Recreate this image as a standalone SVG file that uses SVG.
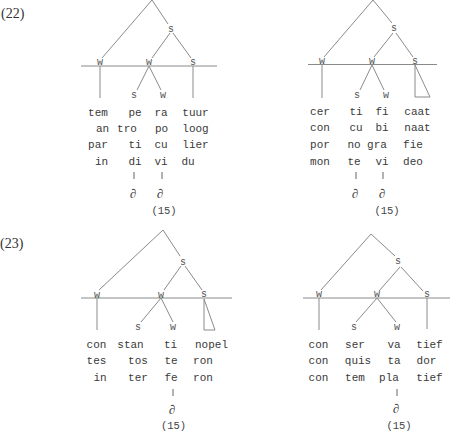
<svg xmlns="http://www.w3.org/2000/svg" width="450" height="431" viewBox="0 0 450 431">
<style>
.bg{fill:#ffffff}
.ln{stroke:#8a8a8a;stroke-width:1;fill:none}
.bar{stroke:#666;stroke-width:1}
.lbl{font-family:"Liberation Mono","DejaVu Sans Mono",monospace;font-size:10px;fill:#555;text-anchor:middle}
.syl{font-family:"Liberation Mono","DejaVu Sans Mono",monospace;font-size:11px;fill:#3a3a3a;text-anchor:middle}
.num{font-family:"Liberation Serif","Times New Roman",serif;font-size:14px;fill:#333}
.schwa{font-family:"Liberation Serif","DejaVu Serif",serif;font-style:italic;font-size:13px;fill:#444;text-anchor:middle}
.ref{font-family:"Liberation Mono","DejaVu Sans Mono",monospace;font-size:10.5px;fill:#444;text-anchor:middle}
</style>
<rect class="bg" x="0" y="0" width="450" height="431"/>
<text class="num" x="1" y="18">(22)</text>
<text class="num" x="0" y="248">(23)</text>

<!-- Example 22 left -->
<g id="ex22a">
  <g id="ex22a-connectors">
    <line class="ln" x1="152" y1="0" x2="102" y2="58"/>
    <line class="ln" x1="152" y1="0" x2="168" y2="24"/>
    <line class="ln" x1="170" y1="33" x2="152" y2="58"/>
    <line class="ln" x1="173" y1="33" x2="191" y2="58"/>
    <line class="ln" x1="81" y1="66" x2="217" y2="66"/>
    <line class="ln" x1="100" y1="66" x2="100" y2="98"/>
    <line class="ln" x1="149" y1="66" x2="137" y2="90"/>
    <line class="ln" x1="149" y1="66" x2="161" y2="90"/>
    <line class="ln" x1="193" y1="66" x2="193" y2="98"/>
    <line class="bar" x1="134" y1="172" x2="134" y2="179"/>
    <line class="bar" x1="162" y1="172" x2="162" y2="179"/>
  </g>
  <g id="ex22a-n-s1"><text class="lbl" x="171" y="32">s</text></g>
  <g id="ex22a-n-w1"><text class="lbl" x="100" y="65">w</text></g>
  <g id="ex22a-n-w2"><text class="lbl" x="149" y="65">w</text></g>
  <g id="ex22a-n-s2"><text class="lbl" x="193" y="65">s</text></g>
  <g id="ex22a-n-s3"><text class="lbl" x="134" y="98">s</text></g>
  <g id="ex22a-n-w3"><text class="lbl" x="163" y="98">w</text></g>
  <g id="ex22a-words">
    <text class="syl" x="98" y="115.5">tem</text><text class="syl" x="135" y="115.5">pe</text><text class="syl" x="161" y="115.5">ra</text><text class="syl" x="195.5" y="115.5">tuur</text>
    <text class="syl" x="102.5" y="131.5">an</text><text class="syl" x="127" y="131.5">tro</text><text class="syl" x="161.5" y="131.5">po</text><text class="syl" x="195.5" y="131.5">loog</text>
    <text class="syl" x="98" y="148">par</text><text class="syl" x="135" y="148">ti</text><text class="syl" x="161" y="148">cu</text><text class="syl" x="195.5" y="148">lier</text>
    <text class="syl" x="101.5" y="164.5">in</text><text class="syl" x="135" y="164.5">di</text><text class="syl" x="161" y="164.5">vi</text><text class="syl" x="188" y="164.5">du</text>
  </g>
  <text class="schwa" x="133" y="198">∂</text>
  <text class="schwa" x="160" y="198">∂</text>
  <text class="ref" x="164" y="214">(15)</text>
</g>

<!-- Example 22 right -->
<g id="ex22b">
  <g id="ex22b-connectors">
    <line class="ln" x1="373" y1="0" x2="324" y2="57"/>
    <line class="ln" x1="373" y1="0" x2="392" y2="23"/>
    <line class="ln" x1="393" y1="33" x2="374" y2="57"/>
    <line class="ln" x1="396" y1="33" x2="413" y2="57"/>
    <line class="ln" x1="308" y1="64.5" x2="437" y2="64.5"/>
    <line class="ln" x1="322" y1="65" x2="322" y2="98"/>
    <line class="ln" x1="372" y1="65" x2="360" y2="90"/>
    <line class="ln" x1="372" y1="65" x2="384" y2="90"/>
    <polygon class="ln" points="415,65 415,97 430,97"/>
    <line class="bar" x1="356" y1="172" x2="356" y2="179"/>
    <line class="bar" x1="383" y1="172" x2="383" y2="179"/>
  </g>
  <g id="ex22b-n-s1"><text class="lbl" x="394" y="31">s</text></g>
  <g id="ex22b-n-w1"><text class="lbl" x="322" y="64">w</text></g>
  <g id="ex22b-n-w2"><text class="lbl" x="372" y="64">w</text></g>
  <g id="ex22b-n-s2"><text class="lbl" x="415" y="64">s</text></g>
  <g id="ex22b-n-s3"><text class="lbl" x="357" y="98">s</text></g>
  <g id="ex22b-n-w3"><text class="lbl" x="386" y="98">w</text></g>
  <g id="ex22b-words">
    <text class="syl" x="320" y="115">cer</text><text class="syl" x="356" y="115">ti</text><text class="syl" x="382" y="115">fi</text><text class="syl" x="417.5" y="115">caat</text>
    <text class="syl" x="320" y="131">con</text><text class="syl" x="356" y="131">cu</text><text class="syl" x="382" y="131">bi</text><text class="syl" x="417.5" y="131">naat</text>
    <text class="syl" x="320" y="148">por</text><text class="syl" x="354" y="148">no</text><text class="syl" x="377" y="148">gra</text><text class="syl" x="413" y="148">fie</text>
    <text class="syl" x="320" y="164.5">mon</text><text class="syl" x="354" y="164.5">te</text><text class="syl" x="382" y="164.5">vi</text><text class="syl" x="413" y="164.5">deo</text>
  </g>
  <text class="schwa" x="355" y="198">∂</text>
  <text class="schwa" x="382" y="198">∂</text>
  <text class="ref" x="387" y="214">(15)</text>
</g>

<!-- Example 23 left -->
<g id="ex23a">
  <g id="ex23a-connectors">
    <line class="ln" x1="163" y1="230" x2="99" y2="290"/>
    <line class="ln" x1="163" y1="230" x2="180" y2="256"/>
    <line class="ln" x1="181" y1="266" x2="164" y2="290"/>
    <line class="ln" x1="185" y1="266" x2="202" y2="290"/>
    <line class="ln" x1="81" y1="298" x2="232" y2="298"/>
    <line class="ln" x1="97" y1="298" x2="97" y2="330"/>
    <line class="ln" x1="161" y1="298" x2="141" y2="322"/>
    <line class="ln" x1="161" y1="298" x2="173" y2="322"/>
    <polygon class="ln" points="204,299 204,330 215,330"/>
    <line class="bar" x1="173" y1="389" x2="173" y2="396"/>
  </g>
  <g id="ex23a-n-s1"><text class="lbl" x="183" y="265">s</text></g>
  <g id="ex23a-n-w1"><text class="lbl" x="97" y="298">w</text></g>
  <g id="ex23a-n-w2"><text class="lbl" x="161" y="298">w</text></g>
  <g id="ex23a-n-s2"><text class="lbl" x="204" y="297">s</text></g>
  <g id="ex23a-n-s3"><text class="lbl" x="138" y="330">s</text></g>
  <g id="ex23a-n-w3"><text class="lbl" x="173" y="330">w</text></g>
  <g id="ex23a-words">
    <text class="syl" x="96.5" y="347.5">con</text><text class="syl" x="130.5" y="347.5">stan</text><text class="syl" x="170.5" y="347.5">ti</text><text class="syl" x="211.5" y="347.5">nopel</text>
    <text class="syl" x="96.5" y="364">tes</text><text class="syl" x="138" y="364">tos</text><text class="syl" x="171" y="364">te</text><text class="syl" x="203" y="364">ron</text>
    <text class="syl" x="100" y="380.5">in</text><text class="syl" x="138" y="380.5">ter</text><text class="syl" x="171" y="380.5">fe</text><text class="syl" x="203" y="380.5">ron</text>
  </g>
  <text class="schwa" x="172" y="414">∂</text>
  <text class="ref" x="173.5" y="429">(15)</text>
</g>

<!-- Example 23 right -->
<g id="ex23b">
  <g id="ex23b-connectors">
    <line class="ln" x1="371" y1="234" x2="321" y2="290"/>
    <line class="ln" x1="371" y1="234" x2="395" y2="256"/>
    <line class="ln" x1="400" y1="267" x2="379" y2="291"/>
    <line class="ln" x1="401" y1="267" x2="423" y2="291"/>
    <line class="ln" x1="303" y1="298" x2="450" y2="298"/>
    <line class="ln" x1="319" y1="298" x2="319" y2="330"/>
    <line class="ln" x1="377" y1="298" x2="356" y2="322"/>
    <line class="ln" x1="377" y1="298" x2="396" y2="322"/>
    <line class="ln" x1="427" y1="298" x2="427" y2="329"/>
    <line class="bar" x1="397" y1="389" x2="397" y2="396"/>
  </g>
  <g id="ex23b-n-s1"><text class="lbl" x="398" y="264">s</text></g>
  <g id="ex23b-n-w1"><text class="lbl" x="319" y="297">w</text></g>
  <g id="ex23b-n-w2"><text class="lbl" x="377" y="297">w</text></g>
  <g id="ex23b-n-s2"><text class="lbl" x="427" y="297">s</text></g>
  <g id="ex23b-n-s3"><text class="lbl" x="354" y="330">s</text></g>
  <g id="ex23b-n-w3"><text class="lbl" x="397" y="330">w</text></g>
  <g id="ex23b-words">
    <text class="syl" x="318.5" y="347.5">con</text><text class="syl" x="355" y="347.5">ser</text><text class="syl" x="394" y="347.5">va</text><text class="syl" x="429.5" y="347.5">tief</text>
    <text class="syl" x="318.5" y="364">con</text><text class="syl" x="358" y="364">quis</text><text class="syl" x="394" y="364">ta</text><text class="syl" x="426.5" y="364">dor</text>
    <text class="syl" x="318.5" y="380.5">con</text><text class="syl" x="355" y="380.5">tem</text><text class="syl" x="389" y="380.5">pla</text><text class="syl" x="429.5" y="380.5">tief</text>
  </g>
  <text class="schwa" x="396" y="413">∂</text>
  <text class="ref" x="399" y="429">(15)</text>
</g>
</svg>
